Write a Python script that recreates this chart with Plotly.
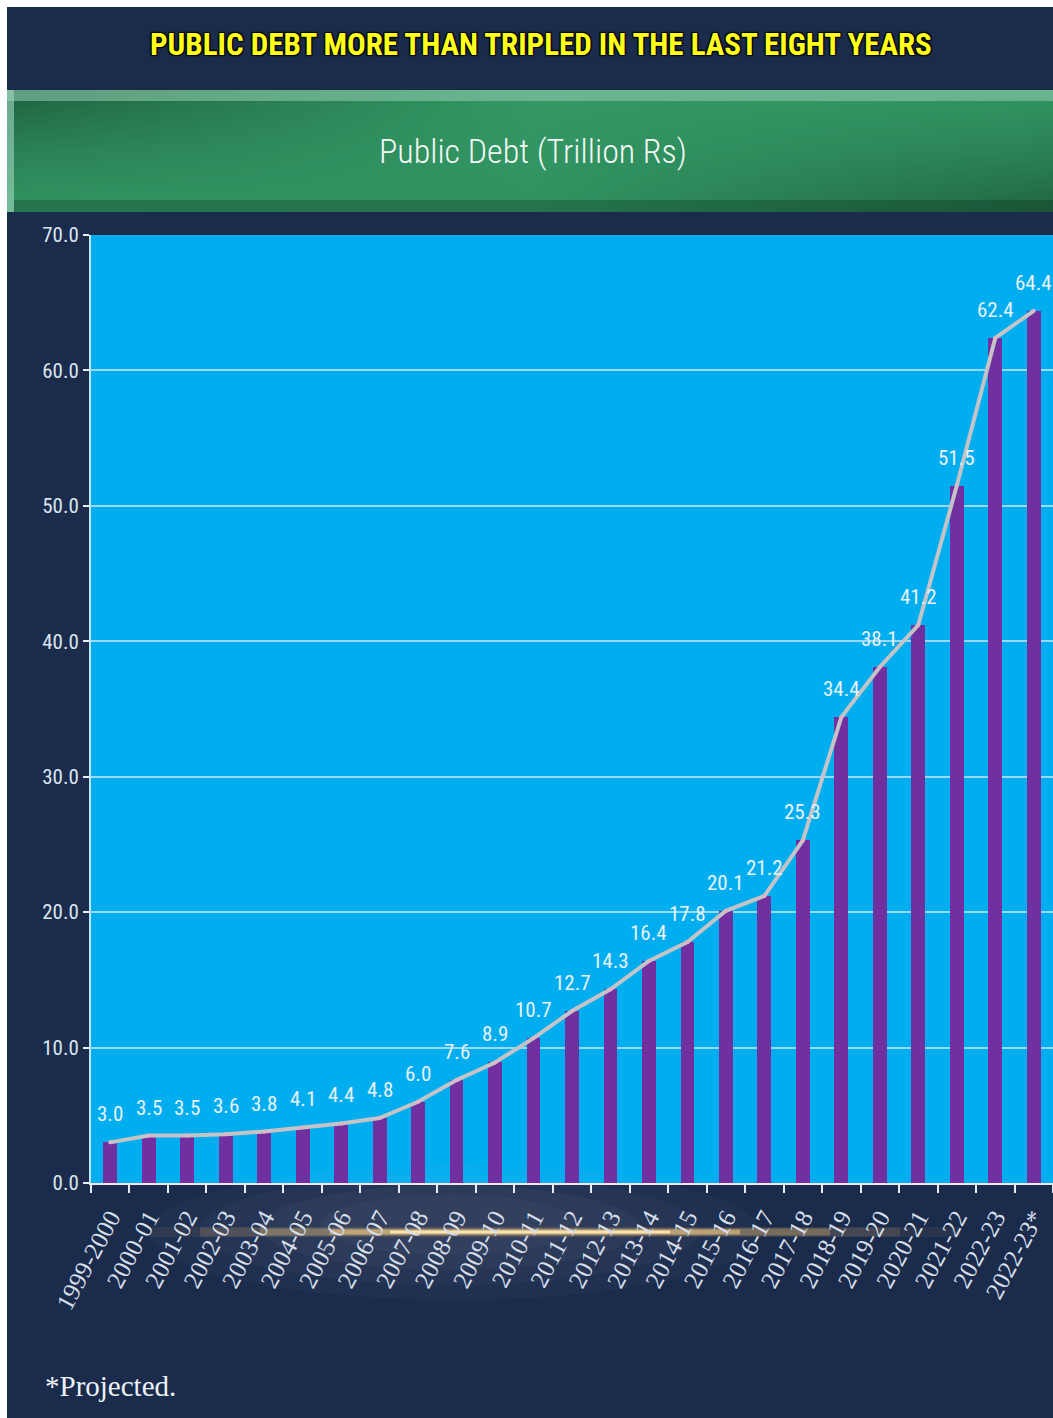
import plotly.graph_objects as go

# Fiscal years and public debt (trillion rupees)
years = ["1999-2000", "2000-01", "2001-02", "2002-03", "2003-04", "2004-05",
         "2005-06", "2006-07", "2007-08", "2008-09", "2009-10", "2010-11",
         "2011-12", "2012-13", "2013-14", "2014-15", "2015-16", "2016-17",
         "2017-18", "2018-19", "2019-20", "2020-21", "2021-22", "2022-23",
         "2022-23*"]
debt = [3.0, 3.5, 3.5, 3.6, 3.8, 4.1, 4.4, 4.8, 6.0, 7.6, 8.9, 10.7, 12.7,
        14.3, 16.4, 17.8, 20.1, 21.2, 25.3, 34.4, 38.1, 41.2, 51.5, 62.4, 64.4]
y_ticks = [0, 10, 20, 30, 40, 50, 60, 70]

title_text = "PUBLIC DEBT MORE THAN TRIPLED IN THE LAST EIGHT YEARS"
banner_text = "Public Debt (Trillion Rs)"
note_text = "*Projected."

W, H = 1053, 1418
NAVY = "#1a2b4b"
SKY = "#00adef"
PURPLE = "#7030a0"
COND = "Roboto Condensed, Roboto, sans-serif"
SERIF = "Liberation Serif, DejaVu Serif, serif"


def px_x(v):
    return v / W


def px_y(v):
    return 1 - v / H


fig = go.Figure()

# green banner body: smooth 2-D shading via an interpolated heatmap
fig.add_trace(go.Heatmap(
    x=[0, 0.5, 1], y=[0, 0.5, 1],
    z=[[0.85, 0.80, 0.15],
       [0.55, 0.85, 0.55],
       [0.10, 0.90, 0.85]],
    zsmooth="best", showscale=False, hoverinfo="skip",
    colorscale=[[0, "#1c5a3a"], [1, "#36a06b"]], zmin=0, zmax=1,
    xaxis="x2", yaxis="y2",
))

# debt bars
fig.add_trace(go.Bar(
    x=years, y=debt, width=0.36, marker=dict(color=PURPLE, line_width=0),
    hoverinfo="x+y",
))

# trend line over the bar tops
fig.add_trace(go.Scatter(
    x=years, y=debt, mode="lines+markers",
    line=dict(color="#c4c4c8", width=4),
    marker=dict(size=4, color="#e4b4c4"),
    hoverinfo="skip",
))

# value labels
for yr, v in zip(years, debt):
    fig.add_annotation(
        x=yr, y=v, text=f"{v:.1f}", showarrow=False, yshift=28,
        font=dict(family=COND, size=21, color="#e8f2fb"),
    )

shapes = []
# white frame strips at left and top edges
shapes.append(dict(type="rect", xref="paper", yref="paper", x0=0, x1=px_x(7),
                   y0=0, y1=1, fillcolor="white", line_width=0, layer="below"))
shapes.append(dict(type="rect", xref="paper", yref="paper", x0=0, x1=1,
                   y0=px_y(7), y1=1, fillcolor="white", line_width=0, layer="below"))
# banner bevels
shapes.append(dict(type="rect", xref="paper", yref="paper", x0=px_x(7), x1=1,
                   y0=px_y(101), y1=px_y(90), fillcolor="rgba(150,205,180,0.55)",
                   line_width=0, layer="above"))
shapes.append(dict(type="rect", xref="paper", yref="paper", x0=px_x(7), x1=px_x(14),
                   y0=px_y(212), y1=px_y(90), fillcolor="rgba(160,215,190,0.6)",
                   line_width=0, layer="above"))
shapes.append(dict(type="rect", xref="paper", yref="paper", x0=px_x(14), x1=1,
                   y0=px_y(212), y1=px_y(200), fillcolor="rgba(10,45,25,0.30)",
                   line_width=0, layer="above"))
# soft haze behind the year labels
for x0, x1, y0, y1, a in [
    (150, 760, 1165, 1300, 0.03),
    (200, 700, 1175, 1285, 0.03),
    (260, 640, 1185, 1270, 0.035),
    (320, 580, 1195, 1255, 0.035),
]:
    shapes.append(dict(type="circle", xref="paper", yref="paper", x0=px_x(x0), x1=px_x(x1),
                       y0=px_y(y1), y1=px_y(y0), fillcolor=f"rgba(220,225,240,{a})",
                       line_width=0, layer="below"))
# golden glow streak
for x0, x1, w, col in [
    (150, 960, 10, "rgba(232,180,100,0.08)"),
    (200, 900, 9, "rgba(240,190,110,0.14)"),
    (260, 830, 7, "rgba(245,200,120,0.28)"),
    (330, 740, 5, "rgba(250,210,140,0.5)"),
    (390, 670, 3, "rgba(255,232,180,0.9)"),
]:
    shapes.append(dict(type="line", xref="paper", yref="paper", x0=px_x(x0), x1=px_x(x1),
                       y0=px_y(1232), y1=px_y(1232), line=dict(color=col, width=w),
                       layer="below"))

annotations = [
    dict(text=title_text, xref="paper", yref="paper", x=px_x(541), y=px_y(45),
         showarrow=False, xanchor="center", yanchor="middle",
         font=dict(family=COND, size=31, color="#ffff1a", weight="bold",
                   shadow="1px 1px 1px #000000, -1px -1px 1px #000000, 1px -1px 1px #000000, -1px 1px 1px #000000")),
    dict(text=banner_text, xref="paper", yref="paper", x=px_x(533), y=px_y(151),
         showarrow=False, xanchor="center", yanchor="middle",
         font=dict(family=COND, size=34, color="#f4f8f4", weight=300)),
    dict(text=note_text, xref="paper", yref="paper", x=px_x(43), y=px_y(1386),
         showarrow=False, xanchor="left", yanchor="middle",
         font=dict(family=SERIF, size=29, color="#eef2f8")),
]

fig.update_layout(
    width=W, height=H,
    margin=dict(l=0, r=0, t=0, b=0, autoexpand=False),
    paper_bgcolor=NAVY, plot_bgcolor=SKY,
    showlegend=False, bargap=0,
    shapes=shapes,
    annotations=list(fig.layout.annotations) + annotations,
    xaxis=dict(
        domain=[px_x(91), 1], type="category", range=[-0.5, len(years) - 0.5],
        automargin=False,
        tickson="boundaries", ticks="outside", ticklen=8, tickwidth=2, tickcolor="#e8eef8",
        showline=True, linecolor="#f0e8f4", linewidth=2, showgrid=False,
        tickangle=-62, ticklabelstandoff=8,
        tickfont=dict(family=SERIF, size=25, color="#d6deea"),
    ),
    yaxis=dict(
        domain=[px_y(1183), px_y(235)], range=[0, 70], tickvals=y_ticks,
        automargin=False,
        tickformat=".1f", ticks="outside", ticklen=6, tickwidth=2, tickcolor="#e8eef8",
        showline=True, linecolor="#bfe6f6", linewidth=2,
        showgrid=True, gridcolor="#9ad8f4", gridwidth=2, zeroline=False,
        tickfont=dict(family=COND, size=21, color="#dbe5f0"),
    ),
    xaxis2=dict(domain=[px_x(7), 1], range=[0, 1], visible=False, fixedrange=True,
                automargin=False),
    yaxis2=dict(domain=[px_y(212), px_y(90)], range=[0, 1], visible=False, fixedrange=True,
                automargin=False),
)

fig.write_html("out.html")
